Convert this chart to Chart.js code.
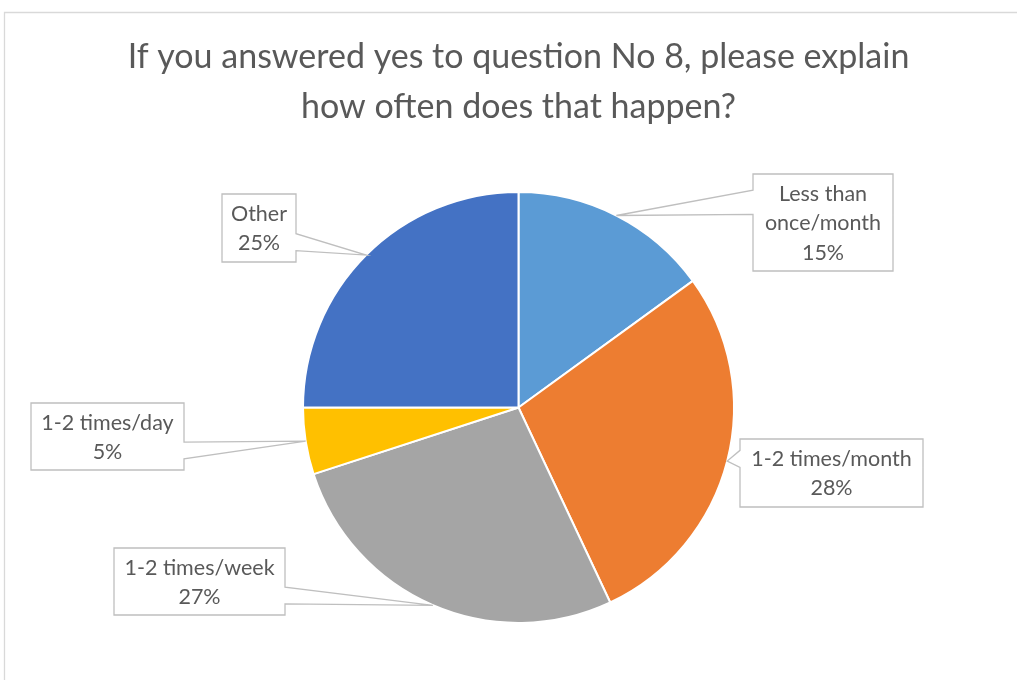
<!DOCTYPE html>
<html>
<head>
<meta charset="utf-8">
<script src="https://cdn.jsdelivr.net/npm/chart.js@4.4.0/dist/chart.umd.min.js"></script>
<style>
  html, body { margin: 0; padding: 0; background: #ffffff; }
  #wrap { width: 1017px; height: 680px; position: relative; }
</style>
</head>
<body>
<div id="wrap"><canvas id="chart" width="1017" height="680"></canvas></div>
<script>
// ---- data ----
const titleLines = ["If you answered yes to question No 8, please explain", "how often does that happen?"];
const categories = ["Less than once/month", "1-2 times/month", "1-2 times/week", "1-2 times/day", "Other"];
const shares = [15, 28, 27, 5, 25];
const sliceColors = ["#5B9BD5", "#ED7D31", "#A5A5A5", "#FFC000", "#4472C4"];

// ---- callout layout: box centre offset from the pie centre, and box size ----
const calloutBoxes = [
  { dx: 304.5, dy: -185,   w: 140, h: 97 },
  { dx: 313,   dy: 65.5,   w: 183, h: 68 },
  { dx: -319,  dy: 174,    w: 171, h: 67 },
  { dx: -411,  dy: 29,     w: 153, h: 67 },
  { dx: -259.5, dy: -179.5, w: 74, h: 68 }
];

const TEXT_COLOR = "#595959";
const FONT_FAMILY = "Lato, 'Open Sans', sans-serif";
const LABEL_SIZE = 21.5;
const LABEL_PITCH = 29.3;
const TITLE_SIZE = 34;

function wrapWords(ctx, text, maxWidth) {
  const words = text.split(" ");
  const lines = [];
  let cur = "";
  for (const w of words) {
    const test = cur ? cur + " " + w : w;
    if (cur && ctx.measureText(test).width > maxWidth) {
      lines.push(cur);
      cur = w;
    } else {
      cur = test;
    }
  }
  if (cur) lines.push(cur);
  return lines;
}

// Rectangle with a wedge pointer toward (tx, ty), in the style of a rect callout
function calloutPath(ctx, x, y, w, h, tx, ty) {
  const cx = x + w / 2, cy = y + h / 2;
  const dxPos = tx - cx, dyPos = ty - cy;
  const dq = dxPos * h / w;
  const vertical = Math.abs(dyPos) > Math.abs(dq);
  const inside = tx >= x && tx <= x + w && ty >= y && ty <= y + h;
  ctx.beginPath();
  ctx.moveTo(x, y);
  if (!inside && vertical && dyPos < 0) {
    const x1 = x + w * (dxPos > 0 ? 7 : 2) / 12, x2 = x + w * (dxPos > 0 ? 10 : 5) / 12;
    ctx.lineTo(x1, y); ctx.lineTo(tx, ty); ctx.lineTo(x2, y);
  }
  ctx.lineTo(x + w, y);
  if (!inside && !vertical && dxPos > 0) {
    const y1 = y + h * (dyPos > 0 ? 7 : 2) / 12, y2 = y + h * (dyPos > 0 ? 10 : 5) / 12;
    ctx.lineTo(x + w, y1); ctx.lineTo(tx, ty); ctx.lineTo(x + w, y2);
  }
  ctx.lineTo(x + w, y + h);
  if (!inside && vertical && dyPos > 0) {
    const x1 = x + w * (dxPos > 0 ? 7 : 2) / 12, x2 = x + w * (dxPos > 0 ? 10 : 5) / 12;
    ctx.lineTo(x2, y + h); ctx.lineTo(tx, ty); ctx.lineTo(x1, y + h);
  }
  ctx.lineTo(x, y + h);
  if (!inside && !vertical && dxPos < 0) {
    const y1 = y + h * (dyPos > 0 ? 7 : 2) / 12, y2 = y + h * (dyPos > 0 ? 10 : 5) / 12;
    ctx.lineTo(x, y2); ctx.lineTo(tx, ty); ctx.lineTo(x, y1);
  }
  ctx.closePath();
}

// Outer frame and title
const frameAndTitle = {
  id: "frameAndTitle",
  beforeDraw(chart) {
    const ctx = chart.ctx;
    ctx.save();
    ctx.fillStyle = "#ffffff";
    ctx.fillRect(0, 0, chart.width, chart.height);
    ctx.strokeStyle = "#d9d9d9";
    ctx.lineWidth = 1.3;
    ctx.beginPath();
    ctx.moveTo(4.5, chart.height);
    ctx.lineTo(4.5, 12.5);
    ctx.lineTo(chart.width, 12.5);
    ctx.stroke();
    ctx.restore();
  },
  afterDraw(chart) {
    const ctx = chart.ctx;
    ctx.save();
    ctx.fillStyle = TEXT_COLOR;
    ctx.font = TITLE_SIZE + "px " + FONT_FAMILY;
    ctx.textAlign = "center";
    ctx.textBaseline = "alphabetic";
    const cx = 518.5;
    titleLines.forEach((line, i) => ctx.fillText(line, cx, 68 + i * 50));
    ctx.restore();
  }
};

// Data callouts pointing at the middle of each slice's rim
const sliceCallouts = {
  id: "sliceCallouts",
  afterDatasetsDraw(chart) {
    const ctx = chart.ctx;
    const meta = chart.getDatasetMeta(0);
    ctx.save();
    ctx.font = LABEL_SIZE + "px " + FONT_FAMILY;
    meta.data.forEach((arc, i) => {
      const p = arc.getProps(["x", "y", "startAngle", "endAngle", "outerRadius"], true);
      const mid = (p.startAngle + p.endAngle) / 2;
      const tx = p.x + Math.cos(mid) * p.outerRadius;
      const ty = p.y + Math.sin(mid) * p.outerRadius;
      const b = calloutBoxes[i];
      const bx = p.x + b.dx - b.w / 2;
      const by = p.y + b.dy - b.h / 2;

      calloutPath(ctx, bx, by, b.w, b.h, tx, ty);
      ctx.fillStyle = "#ffffff";
      ctx.fill();
      ctx.strokeStyle = "#bfbfbf";
      ctx.lineWidth = 1.3;
      ctx.stroke();

      const lines = wrapWords(ctx, categories[i], b.w - 8);
      lines.push(shares[i] + "%");
      ctx.fillStyle = TEXT_COLOR;
      ctx.textAlign = "center";
      ctx.textBaseline = "alphabetic";
      const n = lines.length;
      lines.forEach((ln, k) => {
        const yc = p.y + b.dy + (k - (n - 1) / 2) * LABEL_PITCH;
        ctx.fillText(ln, p.x + b.dx, yc + LABEL_SIZE * 0.36);
      });
    });
    ctx.restore();
  }
};

new Chart(document.getElementById("chart"), {
  type: "pie",
  data: {
    labels: categories,
    datasets: [{
      data: shares,
      backgroundColor: sliceColors,
      borderColor: "#ffffff",
      borderWidth: 2
    }]
  },
  options: {
    responsive: false,
    animation: false,
    events: [],
    layout: { padding: { left: 302, right: 282, top: 191, bottom: 56 } },
    plugins: {
      legend: { display: false },
      tooltip: { enabled: false },
      title: { display: false }
    }
  },
  plugins: [frameAndTitle, sliceCallouts]
});
</script>
</body>
</html>
